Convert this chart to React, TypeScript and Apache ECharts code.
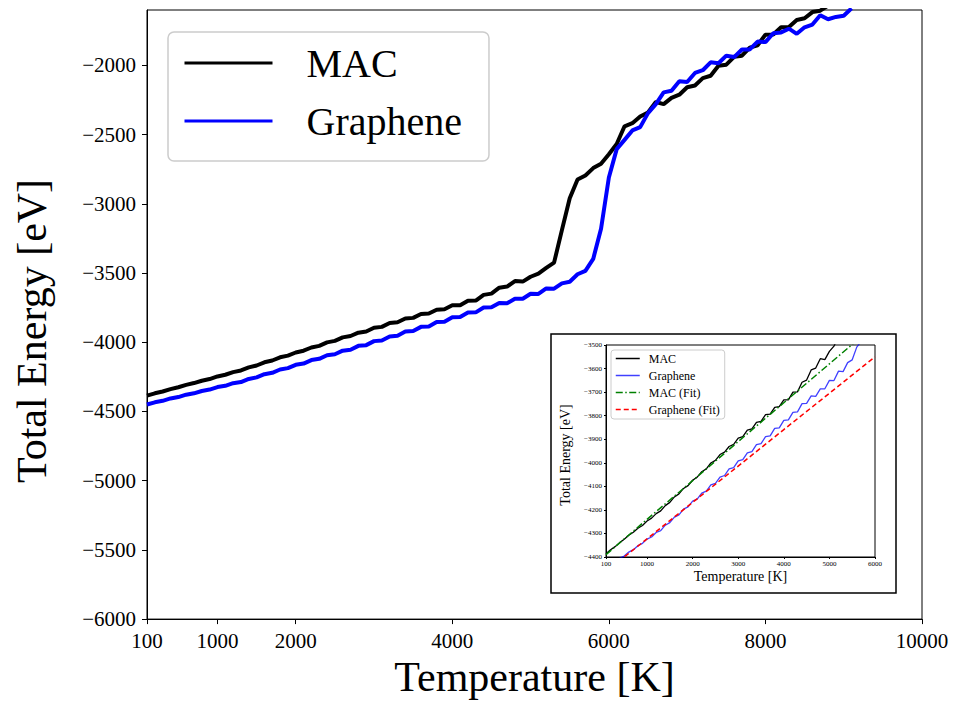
import React, { useEffect, useRef } from "react";
import * as echarts from "echarts";

const temps = [
  100, 200, 300, 400, 500, 600, 700, 800, 900, 1000,
  1100, 1200, 1300, 1400, 1500, 1600, 1700, 1800, 1900, 2000,
  2100, 2200, 2300, 2400, 2500, 2600, 2700, 2800, 2900, 3000,
  3100, 3200, 3300, 3400, 3500, 3600, 3700, 3800, 3900, 4000,
  4100, 4200, 4300, 4400, 4500, 4600, 4700, 4800, 4900, 5000,
  5100, 5200, 5300, 5400, 5500, 5600, 5700, 5800, 5900, 6000,
  6100, 6200, 6300, 6400, 6500, 6600, 6700, 6800, 6900, 7000,
  7100, 7200, 7300, 7400, 7500, 7600, 7700, 7800, 7900, 8000,
  8100, 8200, 8300, 8400, 8500, 8600, 8700, 8800, 8900, 9000,
  9100,
];

const macEnergy = [
  -4386, -4369, -4356, -4339, -4325, -4308, -4295, -4278, -4266, -4247,
  -4235, -4216, -4204, -4182, -4168, -4145, -4132, -4109, -4097, -4074,
  -4061, -4038, -4026, -4001, -3990, -3965, -3955, -3931, -3922, -3895,
  -3889, -3861, -3856, -3828, -3824, -3796, -3793, -3765, -3762, -3733,
  -3733, -3700, -3699, -3658, -3649, -3606, -3598, -3558, -3562, -3527,
  -3505, -3463, -3425, -3190, -2960, -2825, -2795, -2742, -2710, -2642,
  -2568, -2440, -2418, -2370, -2340, -2265, -2280, -2235, -2212, -2158,
  -2145, -2092, -2075, -2003, -1995, -1938, -1930, -1872, -1855, -1778,
  -1777, -1725, -1722, -1672, -1660, -1615, -1605, -1568,
];

const grapheneEnergy = [
  -4450, -4434, -4423, -4406, -4396, -4379, -4369, -4352, -4342, -4324,
  -4315, -4296, -4288, -4265, -4254, -4231, -4221, -4197, -4187, -4163,
  -4154, -4129, -4120, -4094, -4087, -4061, -4054, -4026, -4021, -3992,
  -3987, -3958, -3953, -3923, -3919, -3889, -3886, -3854, -3852, -3820,
  -3818, -3786, -3784, -3749, -3748, -3716, -3718, -3686, -3686, -3650,
  -3651, -3611, -3613, -3575, -3563, -3509, -3484, -3398, -3180, -2810,
  -2605, -2538, -2470, -2446, -2345, -2280, -2195, -2183, -2115, -2120,
  -2055, -2035, -1978, -1985, -1930, -1940, -1885, -1885, -1828, -1832,
  -1768, -1762, -1735, -1772, -1725, -1705, -1638, -1667, -1650, -1642,
  -1588,
];

const fitTemps = [100, 1000, 2000, 3000, 4000, 5000, 6000];
const macFitEnergy = [-4390, -4240, -4076, -3910, -3745, -3580, -3415];
const grapheneFitEnergy = [-4462, -4323, -4168, -4014, -3859, -3705, -3550];

const mainXTicks = [100, 1000, 2000, 4000, 6000, 8000, 10000];
const mainYTicks = [-6000, -5500, -5000, -4500, -4000, -3500, -3000, -2500, -2000];
const insetXTicks = [100, 1000, 2000, 3000, 4000, 5000, 6000];
const insetYTicks = [-4400, -4300, -4200, -4100, -4000, -3900, -3800, -3700, -3600, -3500];

const FONT = "Liberation Serif";
const fmt = (v: number) => String(v).replace("-", "\u2212");

export default function App() {
  const ref = useRef<HTMLDivElement>(null);
  useEffect(() => {
    if (!ref.current) return;
    const chart = echarts.init(ref.current, undefined, { renderer: "svg" });
    const pairs = (xs: number[], ys: number[]) => ys.map((y, i) => [xs[i], y]);

    const axisCommon = (size: number, tickLen: number, margin: number) => ({
      axisLine: { show: true, onZero: false, lineStyle: { color: "#000", width: 1 } },
      axisTick: { show: true, inside: false, length: tickLen, lineStyle: { color: "#000", width: 1 } },
      axisLabel: { color: "#000", fontSize: size, fontFamily: FONT, margin, formatter: fmt },
      splitLine: { show: false },
    });

    const mx = axisCommon(21, 5, 11);
    const my = axisCommon(21, 5, 11);
    const ix = axisCommon(7, 2, 3);
    const iy = axisCommon(7, 2, 4);

    chart.setOption({
      animation: false,
      backgroundColor: "#fff",
      grid: [
        { left: 147, top: 10, right: 31, bottom: 82, show: true, borderColor: "#000", borderWidth: 1, z: 0 },
        { left: 606, top: 345, right: 78, bottom: 146, show: true, borderColor: "#000", borderWidth: 1, backgroundColor: "transparent", z: 5 },
      ],
      xAxis: [
        {
          type: "value", gridIndex: 0, min: 100, max: 10000,
          ...mx,
          axisTick: { ...mx.axisTick, customValues: mainXTicks },
          axisLabel: { ...mx.axisLabel, customValues: mainXTicks },
          name: "Temperature [K]", nameLocation: "middle", nameGap: 36,
          nameTextStyle: { fontSize: 42, fontFamily: FONT, color: "#000" },
        },
        {
          type: "value", gridIndex: 1, min: 100, max: 6000, z: 5,
          ...ix,
          axisTick: { ...ix.axisTick, customValues: insetXTicks },
          axisLabel: { ...ix.axisLabel, customValues: insetXTicks },
          name: "Temperature [K]", nameLocation: "middle", nameGap: 12,
          nameTextStyle: { fontSize: 14, fontFamily: FONT, color: "#000" },
        },
      ],
      yAxis: [
        {
          type: "value", gridIndex: 0, min: -6000, max: -1600,
          ...my,
          axisTick: { ...my.axisTick, customValues: mainYTicks },
          axisLabel: { ...my.axisLabel, customValues: mainYTicks },
        },
        {
          type: "value", gridIndex: 1, min: -4400, max: -3500, z: 5,
          ...iy,
          axisTick: { ...iy.axisTick, customValues: insetYTicks },
          axisLabel: { ...iy.axisLabel, customValues: insetYTicks },
        },
      ],
      legend: [
        {
          data: ["MAC", "Graphene"],
          orient: "vertical", left: 168, top: 32,
          padding: [11, 27, 20, 15],
          itemWidth: 88, itemHeight: 14, itemGap: 18,
          lineStyle: { width: 3 },
          itemStyle: { opacity: 0 },
          textStyle: { fontSize: 40, lineHeight: 40, fontFamily: FONT, color: "#000", padding: [0, 0, 0, 29] },
          backgroundColor: "#fff", borderColor: "#cccccc", borderWidth: 1.5, borderRadius: 6,
          z: 4,
        },
        {
          data: ["MAC ", "Graphene ", "MAC (Fit)", "Graphene (Fit)"],
          formatter: (n: string) => n.trim(),
          orient: "vertical", left: 611, top: 350,
          padding: [2, 5, 3, 4],
          itemWidth: 24, itemHeight: 8, itemGap: 4,
          lineStyle: { width: 1.5 },
          itemStyle: { opacity: 0 },
          textStyle: { fontSize: 12, lineHeight: 13, fontFamily: FONT, color: "#000", padding: [0, 0, 0, 4] },
          backgroundColor: "#fff", borderColor: "#cccccc", borderWidth: 1, borderRadius: 3,
          z: 8,
        },
      ],
      graphic: [
        {
          type: "rect", z: 3,
          shape: { x: 551, y: 334, width: 345, height: 259 },
          style: { fill: "#fff", stroke: "#000", lineWidth: 1.5 },
        },
        {
          type: "text", x: 32, y: 331, rotation: Math.PI / 2, z: 3,
          style: { text: "Total Energy [eV]", fontSize: 42, fontFamily: FONT, fill: "#000", textAlign: "center", textVerticalAlign: "middle" },
        },
        {
          type: "text", x: 565, y: 455, rotation: Math.PI / 2, z: 7,
          style: { text: "Total Energy [eV]", fontSize: 14, fontFamily: FONT, fill: "#000", textAlign: "center", textVerticalAlign: "middle" },
        },
      ],
      series: [
        {
          name: "MAC", type: "line", xAxisIndex: 0, yAxisIndex: 0, data: pairs(temps, macEnergy),
          symbol: "none", showSymbol: false, lineStyle: { color: "#000", width: 4 }, itemStyle: { color: "#000" }, z: 2,
        },
        {
          name: "Graphene", type: "line", xAxisIndex: 0, yAxisIndex: 0, data: pairs(temps, grapheneEnergy),
          symbol: "none", showSymbol: false, lineStyle: { color: "#0000ff", width: 4 }, itemStyle: { color: "#0000ff" }, z: 2,
        },
        {
          name: "MAC ", type: "line", xAxisIndex: 1, yAxisIndex: 1, data: pairs(temps, macEnergy),
          symbol: "none", showSymbol: false, lineStyle: { color: "#000", width: 1.3 }, itemStyle: { color: "#000" }, z: 6,
        },
        {
          name: "Graphene ", type: "line", xAxisIndex: 1, yAxisIndex: 1, data: pairs(temps, grapheneEnergy),
          symbol: "none", showSymbol: false, lineStyle: { color: "#0000ff", width: 1.3, opacity: 0.75 }, itemStyle: { color: "#4040ff" }, z: 6,
        },
        {
          name: "MAC (Fit)", type: "line", xAxisIndex: 1, yAxisIndex: 1, data: pairs(fitTemps, macFitEnergy),
          symbol: "none", showSymbol: false,
          lineStyle: { color: "#008000", width: 1.5, type: [7, 2.5, 1.5, 2.5] }, itemStyle: { color: "#008000" }, z: 7,
        },
        {
          name: "Graphene (Fit)", type: "line", xAxisIndex: 1, yAxisIndex: 1, data: pairs(fitTemps, grapheneFitEnergy),
          symbol: "none", showSymbol: false,
          lineStyle: { color: "#ff0000", width: 1.5, type: [5, 3] }, itemStyle: { color: "#ff0000" }, z: 7,
        },
      ],
    });
    return () => chart.dispose();
  }, []);
  return (
    <div
      ref={ref}
      style={{ position: "fixed", left: 0, top: 0, width: 953, height: 703, background: "#fff" }}
    />
  );
}
